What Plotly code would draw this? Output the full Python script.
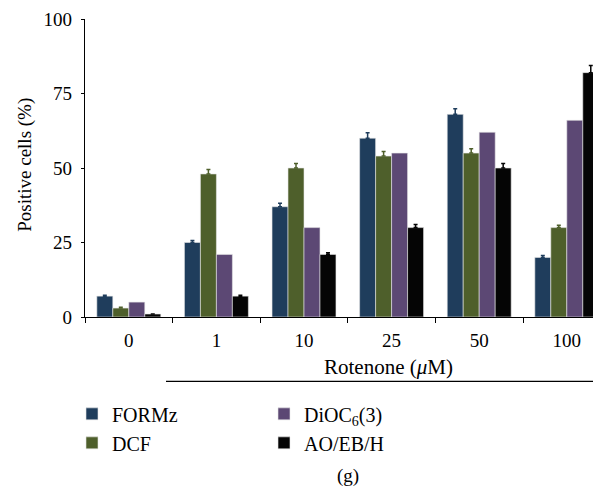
import plotly.graph_objects as go

categories = ["0", "1", "10", "25", "50", "100"]
formz = [7, 25, 37, 60, 68, 20]
dcf = [3, 48, 50, 54, 55, 30]
dioc = [5, 21, 30, 55, 62, 66]
aoebh = [1, 7, 21, 30, 50, 82]
formz_err = [0.3, 0.7, 1.2, 1.8, 1.9, 0.6]
dcf_err = [0.3, 1.5, 1.5, 1.5, 1.5, 0.8]
aoebh_err = [0.0, 0.3, 0.6, 1.0, 1.5, 2.4]
y_ticks = [0, 25, 50, 75, 100]

FONT = "Liberation Serif"
colors = {"FORMz": "#1f3d5c", "DCF": "#4e5f2b", "DiOC": "#5c4874", "AO": "#050505"}

# the page body has an 8px margin, so the figure is drawn offset by 8px
OFF = 8
W, H = 601 - OFF, 487 - OFF
# plot area in reference-window pixels
L_ref, T_ref, B_ref = 85, 19, 317.5
L, T = L_ref - OFF, T_ref - OFF
B = H - (B_ref - OFF)
pw = W - L
ph = H - T - B

def px(x):
    return (x - OFF - L) / pw

def py(y):
    return (H - B - (y - OFF)) / ph

fig = go.Figure()

def add(name, vals, col, err, leg):
    kw = {}
    if err is not None:
        kw["error_y"] = dict(type="data", symmetric=False, array=err,
                             arrayminus=[0] * len(err), color=col,
                             thickness=1.5, width=2)
    fig.add_trace(go.Bar(name=name, x=categories, y=vals,
                         marker=dict(color=col, line=dict(color="#e6e6e6", width=0.6)),
                         legend=leg, **kw))

add("FORMz", formz, colors["FORMz"], formz_err, "legend")
add("DCF", dcf, colors["DCF"], dcf_err, "legend")
add("DiOC<sub>6</sub>(3)", dioc, colors["DiOC"], None, "legend2")
add("AO/EB/H", aoebh, colors["AO"], aoebh_err, "legend2")

legend_common = dict(yanchor="top", xanchor="left", orientation="v",
                     font=dict(family=FONT, size=20), traceorder="normal",
                     bgcolor="rgba(0,0,0,0)", itemclick=False, itemdoubleclick=False)

ncat_vis = pw / 87.6
fig.update_layout(
    width=W, height=H,
    margin=dict(l=L, r=0, t=T, b=B, autoexpand=False),
    paper_bgcolor="white", plot_bgcolor="white",
    font=dict(family=FONT, size=19, color="black"),
    barmode="group", bargap=0.27, bargroupgap=0,
    showlegend=True,
    legend=dict(x=px(72), y=py(395), **legend_common),
    legend2=dict(x=px(264), y=py(395), **legend_common),
    xaxis=dict(type="category", range=[-0.5, -0.5 + ncat_vis], tickson="boundaries",
               showline=True, linecolor="black", linewidth=1.2,
               ticks="outside", ticklen=5, tickcolor="black", tickwidth=1,
               showgrid=False, zeroline=False, automargin=False,
               ticklabelstandoff=6,
               tickfont=dict(family=FONT, size=19)),
    yaxis=dict(range=[0, 100], tickvals=y_ticks,
               showline=True, linecolor="black", linewidth=1.2,
               ticks="outside", ticklen=3, tickcolor="black",
               showgrid=False, zeroline=False, automargin=False,
               ticklabelstandoff=5,
               tickfont=dict(family=FONT, size=19)),
)

fig.add_annotation(text="Positive cells (%)", textangle=-90, xref="paper", yref="paper",
                   x=px(25), y=py(165), xanchor="center", yanchor="middle",
                   showarrow=False, font=dict(family=FONT, size=19))
fig.add_annotation(text="Rotenone (<i>μ</i>M)", xref="paper", yref="paper",
                   x=px(388), y=py(368), xanchor="center", yanchor="middle",
                   showarrow=False, font=dict(family=FONT, size=21))
fig.add_annotation(text="(g)", xref="paper", yref="paper",
                   x=px(348), y=py(477), xanchor="center", yanchor="middle",
                   showarrow=False, font=dict(family=FONT, size=19))
fig.add_shape(type="line", xref="paper", yref="paper",
              x0=px(166), x1=px(601), y0=py(382), y1=py(382),
              line=dict(color="black", width=1.2))

fig.write_html("out.html")
